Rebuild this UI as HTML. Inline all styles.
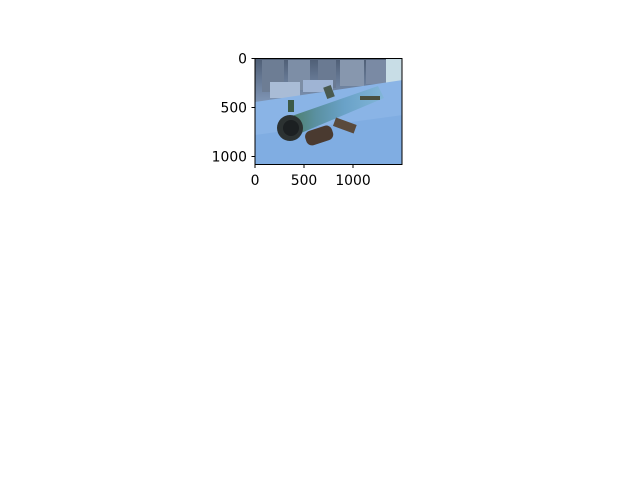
<!DOCTYPE html>
<html><head><meta charset="utf-8"><style>
body{margin:0;background:#fff;width:640px;height:480px;overflow:hidden;font-family:"DejaVu Sans","Liberation Sans",sans-serif}
</style></head><body>
<svg id="chart" width="640" height="480" xmlns="http://www.w3.org/2000/svg">
<defs>
<clipPath id="clip"><rect x="255" y="58.5" width="147" height="106"/></clipPath>
<linearGradient id="tube" x1="0" y1="0" x2="1" y2="0">
<stop offset="0" stop-color="#4a7a5e"/><stop offset="0.3" stop-color="#5a90a0"/><stop offset="0.6" stop-color="#6aa2c8"/><stop offset="1" stop-color="#82b6d8"/></linearGradient>
<linearGradient id="bg" x1="0" y1="0" x2="0" y2="1">
<stop offset="0" stop-color="#4e5d74"/><stop offset="0.5" stop-color="#8aa2c4"/><stop offset="1" stop-color="#b6cbe4"/></linearGradient>
</defs>
<g id="image" clip-path="url(#clip)">
<rect x="255" y="58" width="148" height="108" fill="url(#bg)"/>
<rect x="262" y="60" width="22" height="32" fill="#6d7d94"/>
<rect x="288" y="60" width="22" height="30" fill="#7d8ea6"/>
<rect x="318" y="60" width="18" height="28" fill="#6a7a92"/>
<rect x="340" y="60" width="24" height="26" fill="#8797ae"/>
<rect x="366" y="60" width="22" height="24" fill="#7a8aa4"/>
<rect x="386" y="58" width="17" height="26" fill="#c8dde6"/>
<rect x="270" y="82" width="30" height="16" fill="#a9bcd6"/>
<rect x="303" y="80" width="30" height="12" fill="#9fb4d4"/>
<polygon points="255,102 403,80 403,166 255,166" fill="#8ab4e6"/>
<polygon points="255,135 403,115 403,166 255,166" fill="#7aa8e0" opacity="0.6"/>
<polygon points="286,118 378,86 384,98 294,136" fill="url(#tube)"/>
<rect x="325" y="86" width="8" height="12" fill="#4a5a50" transform="rotate(-20 329 92)"/>
<rect x="360" y="96" width="20" height="4" fill="#4a5040"/>
<rect x="334" y="121" width="22" height="9" fill="#5a4a3c" transform="rotate(20 345 125)"/>
<rect x="305" y="128" width="28" height="15" rx="6" fill="#4a3a30" transform="rotate(-18 319 135)"/>
<circle cx="290" cy="128" r="13" fill="#2c3232"/>
<circle cx="291" cy="128" r="8" fill="#1c2022"/>
<rect x="288" y="100" width="6" height="12" fill="#3c5a48"/>
</g>
<rect x="255" y="58.5" width="147" height="106" fill="none" stroke="#000" stroke-width="1"/>
<g id="xt"></g>
<g id="yt"></g>
</svg>
<script>
const xTicks=[0,500,1000];
const yTicks=[0,500,1000];
const plotLeft=255,plotTop=58.5,pxScale=0.098;
const xs=v=>plotLeft+v*pxScale, ys=v=>plotTop+v*pxScale;
const ns="http://www.w3.org/2000/svg";
const xt=document.getElementById('xt'), yt=document.getElementById('yt');
xTicks.forEach(v=>{
 const l=document.createElementNS(ns,'line');
 
 
 l.setAttribute('x1',xs(v));l.setAttribute('x2',xs(v));l.setAttribute('y1',164.5);l.setAttribute('y2',168);l.setAttribute('stroke','#000');
 xt.appendChild(l);
 const t=document.createElementNS(ns,'text');
 
 
 t.setAttribute('x',xs(v));t.setAttribute('y',185);t.setAttribute('text-anchor','middle');t.setAttribute('font-size','13.9');
 t.textContent=v;xt.appendChild(t);
});
yTicks.forEach(v=>{
 const l=document.createElementNS(ns,'line');
 
 
 l.setAttribute('x1',251.5);l.setAttribute('x2',255);l.setAttribute('y1',ys(v));l.setAttribute('y2',ys(v));l.setAttribute('stroke','#000');
 yt.appendChild(l);
 const t=document.createElementNS(ns,'text');
 
 
 t.setAttribute('x',247);t.setAttribute('y',ys(v)+5);t.setAttribute('text-anchor','end');t.setAttribute('font-size','13.9');
 t.textContent=v;yt.appendChild(t);
});
</script>
</body></html>
